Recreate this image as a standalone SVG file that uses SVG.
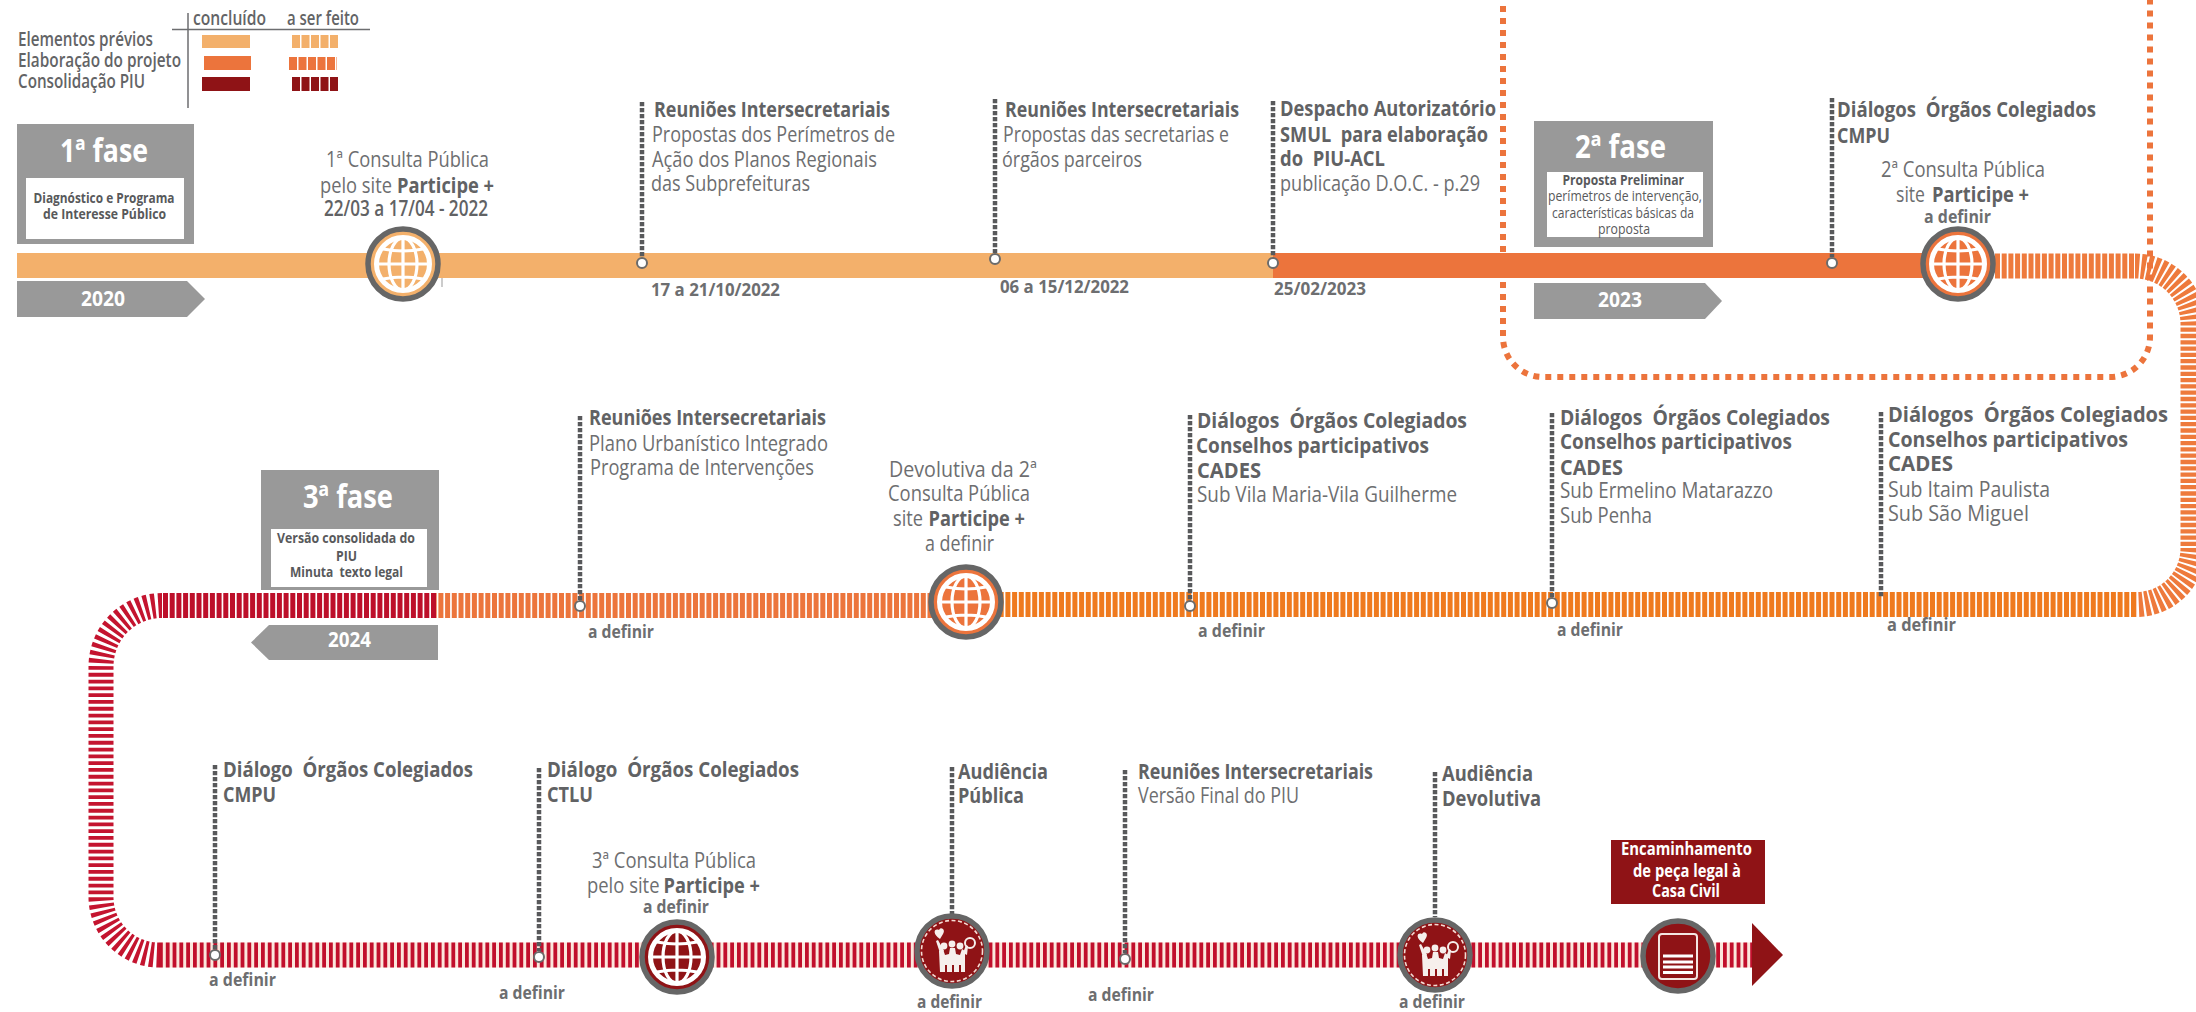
<svg xmlns="http://www.w3.org/2000/svg" width="2196" height="1012" viewBox="0 0 2196 1012">
<style>
text{font-family:"Open Sans","Noto Sans","Liberation Sans",sans-serif;fill:#6d6e70;font-size:21px}
.b{font-weight:700;fill:#616264}
.d{font-weight:700;fill:#6d6e70;font-size:18.5px}
.lg{font-weight:600;fill:#636466;font-size:19px}
.t{font-weight:700;fill:#fff;font-size:32px}
.y{font-weight:700;fill:#fff;font-size:21.5px}
.s{font-size:15px;fill:#58595b;font-weight:400}
.sb{font-size:15px;fill:#58595b;font-weight:700}
.w{font-size:17.5px;fill:#fff;font-weight:700}
.band{fill:none;stroke-width:25}
.solidA{stroke:#f3b06b}.solidB{stroke:#ec743c}
.st{stroke-dasharray:5 1.7}
.stThin{stroke-dasharray:3.8 3}
.leader{stroke:#58595b;stroke-width:4.5;stroke-dasharray:4.2 1.8;fill:none}
.mk{fill:#fff;stroke:#6b6b6b;stroke-width:2}
.ring{stroke:#666;stroke-width:5.5}
.box{fill:#999}
.wh{fill:none;stroke:#fff}
</style>
<defs>
<g id="globe" class="wh">
<circle r="26.500" stroke-width="5"/>
<ellipse rx="14" ry="26" stroke-width="3.200"/>
<path d="M0-26V26M-26 0H26M-20-15Q0-11 20-15M-20 15Q0 11 20 15" stroke-width="3.200"/>
</g>
<g id="crowd">
<circle r="30.500" fill="none" stroke="#f4dcd4" stroke-width="1.600" stroke-dasharray="4 2.500"/>
<g fill="#f6efec">
<path d="M-13 0L-9-2-7 4-3 3-2-3 3-3 4 3 8 4 10-2 13 0 13 21 9 21 9 14 7 14 7 21 2 21 2 14 0 14 0 21-5 21-5 14-7 14-7 21-12 21Z"/>
<circle cx="-8" cy="-5" r="3.400"/><circle cx="0" cy="-7" r="3.400"/><circle cx="8" cy="-5" r="3.400"/>
<path d="M-12 2L-16-10-14-11-8 0ZM11 2L14-6 16-5 15 4Z"/>
<path d="M-12-12C-20-17-18-23-13-21-11-25-6-21-9-17Z"/>
</g>
<circle cx="18" cy="-8" r="5" fill="none" stroke="#f6efec" stroke-width="2"/>
</g>
</defs>

<g id="connectors">
<path class="band solidA" d="M17 265.500H1273"/>
<path class="band solidB" d="M1273 265.500H1925"/>
<path class="band st" stroke="#ee7a3c" d="M1995 266H2135"/>
<path class="band" stroke="#ee7a3c" stroke-dasharray="4.300 2" d="M2135 266A58 58 0 0 1 2193 324V548A56.500 56.500 0 0 1 2136.500 604.500"/>
<path class="band st" stroke="#ef7a1e" d="M2136 604.500H966"/>
<path class="band st" stroke="#ec753c" d="M966 605.500H436"/>
<path class="band st" stroke="#bd0f2a" d="M436 605.500H162"/>
<path class="band" stroke="#c4142f" stroke-dasharray="3.800 3" d="M162 605.500A61 61 0 0 0 101 667V897A58 58 0 0 0 159 955"/>
<path class="band" stroke="#fbe6dc" d="M159 955H1752"/>
<path class="band stThin" stroke="#c10f2c" d="M159 955H1752"/>
<path id="dotted-frame" fill="none" stroke="#ec743c" stroke-width="6" stroke-dasharray="6 6" d="M1503-6V337A40 40 0 0 0 1543 377H2110A40 40 0 0 0 2150 337V-6"/>
<path class="leader" d="M642 102V257"/>
<path class="leader" d="M995 99V253"/>
<path class="leader" d="M1273 101V257"/>
<path class="leader" d="M1832 98V257"/>
<path class="leader" d="M580 416V600"/>
<path class="leader" d="M1190 415V600"/>
<path class="leader" d="M1552 413V597"/>
<path class="leader" d="M1881 412V597"/>
<path class="leader" d="M215 765V949"/>
<path class="leader" d="M539 768V951"/>
<path class="leader" d="M952 767V915"/>
<path class="leader" d="M1125 770V953"/>
<path class="leader" d="M1435 772V917"/>
<path d="M442 278V287" stroke="#999" stroke-width="1"/>
</g>

<g id="legend">
<path d="M188 13V108M172 29.500H370" stroke="#6d6e70" stroke-width="1.500" fill="none"/>
<text class="lg" x="193" y="25" textLength="73" lengthAdjust="spacingAndGlyphs">concluído</text>
<text class="lg" x="287" y="25" textLength="72" lengthAdjust="spacingAndGlyphs">a ser feito</text>
<text class="lg" x="18" y="46" textLength="135" lengthAdjust="spacingAndGlyphs">Elementos prévios</text>
<text class="lg" x="18" y="67" textLength="163" lengthAdjust="spacingAndGlyphs">Elaboração do projeto</text>
<text class="lg" x="18" y="88" textLength="127" lengthAdjust="spacingAndGlyphs">Consolidação PIU</text>
<rect x="202" y="35" width="48" height="13" fill="#f3b06b"/>
<rect x="204" y="56" width="47" height="14" fill="#ec743c"/>
<rect x="202" y="77" width="48" height="14" fill="#8f1316"/>
<path d="M292 41.500H339" stroke="#f3b06b" stroke-width="13" stroke-dasharray="8 1.500"/>
<path d="M289 63.500H337" stroke="#ec743c" stroke-width="13" stroke-dasharray="8 1.500"/>
<path d="M292 84H339" stroke="#8f1316" stroke-width="14" stroke-dasharray="8 1.500"/>
</g>

<g id="fase1">
<rect class="box" x="17" y="124" width="177" height="120"/>
<rect x="26" y="178" width="158" height="61" fill="#fff"/>
<text class="t" x="60" y="162" textLength="88" lengthAdjust="spacingAndGlyphs">1ª fase</text>
<text class="sb" x="33.500" y="203" textLength="141" lengthAdjust="spacingAndGlyphs">Diagnóstico e Programa</text>
<text class="sb" x="43" y="219" textLength="123" lengthAdjust="spacingAndGlyphs">de Interesse Público</text>
</g>
<g id="ano2020">
<path class="box" d="M17 281H187L205 299 187 317H17Z"/>
<text class="y" x="81" y="306" textLength="44" lengthAdjust="spacingAndGlyphs">2020</text>
</g>
<g id="consulta1">
<text x="326" y="167" textLength="163" lengthAdjust="spacingAndGlyphs">1ª Consulta Pública</text>
<text y="193"><tspan x="320" textLength="72" lengthAdjust="spacingAndGlyphs">pelo site</tspan><tspan class="b" x="397" textLength="97" lengthAdjust="spacingAndGlyphs">Participe +</tspan></text>
<text class="b" style="font-weight:600" x="324" y="216" textLength="164" lengthAdjust="spacingAndGlyphs">22/03 a 17/04 - 2022</text>
<circle class="ring" cx="403" cy="264" r="35" fill="#f3b06b"/>
<use href="#globe" x="403" y="264"/>
</g>
<g id="reunioes1">
<circle class="mk" cx="642" cy="263" r="5"/>
<text class="b" x="654" y="117" textLength="236" lengthAdjust="spacingAndGlyphs">Reuniões Intersecretariais</text>
<text x="652" y="142" textLength="243" lengthAdjust="spacingAndGlyphs">Propostas dos Perímetros de</text>
<text x="652" y="167" textLength="225" lengthAdjust="spacingAndGlyphs">Ação dos Planos Regionais</text>
<text x="651" y="191" textLength="159" lengthAdjust="spacingAndGlyphs">das Subprefeituras</text>
<text class="d" x="651" y="296" textLength="129" lengthAdjust="spacingAndGlyphs">17 a 21/10/2022</text>
</g>
<g id="reunioes2">
<circle class="mk" cx="995" cy="259" r="5"/>
<text class="b" x="1005" y="117" textLength="234" lengthAdjust="spacingAndGlyphs">Reuniões Intersecretariais</text>
<text x="1003" y="142" textLength="226" lengthAdjust="spacingAndGlyphs">Propostas das secretarias e</text>
<text x="1002" y="167" textLength="140" lengthAdjust="spacingAndGlyphs">órgãos parceiros</text>
<text class="d" x="1000" y="293" textLength="129" lengthAdjust="spacingAndGlyphs">06 a 15/12/2022</text>
</g>
<g id="despacho">
<circle class="mk" cx="1273" cy="263" r="5"/>
<text class="b" x="1280" y="116" textLength="216" lengthAdjust="spacingAndGlyphs">Despacho Autorizatório</text>
<text class="b" x="1280" y="142" textLength="208" lengthAdjust="spacingAndGlyphs" xml:space="preserve">SMUL  para elaboração</text>
<text class="b" x="1280" y="166" textLength="105" lengthAdjust="spacingAndGlyphs" xml:space="preserve">do  PIU-ACL</text>
<text x="1280" y="191" textLength="200" lengthAdjust="spacingAndGlyphs">publicação D.O.C. - p.29</text>
<text class="d" x="1274" y="295" textLength="92" lengthAdjust="spacingAndGlyphs">25/02/2023</text>
</g>
<g id="fase2">
<rect class="box" x="1534" y="121" width="179" height="126"/>
<rect x="1547" y="172" width="156" height="65" fill="#fff"/>
<text class="t" x="1575" y="158" textLength="91" lengthAdjust="spacingAndGlyphs">2ª fase</text>
<text class="sb" x="1562.500" y="185" textLength="121.500" lengthAdjust="spacingAndGlyphs">Proposta Preliminar</text>
<text class="s" x="1548" y="201" textLength="154" lengthAdjust="spacingAndGlyphs">perímetros de intervenção,</text>
<text class="s" x="1552" y="218" textLength="142" lengthAdjust="spacingAndGlyphs">características básicas da</text>
<text class="s" x="1598" y="234" textLength="52" lengthAdjust="spacingAndGlyphs">proposta</text>
</g>
<g id="ano2023">
<path class="box" d="M1534 283H1705L1722 301 1705 319H1534Z"/>
<text class="y" x="1598" y="307" textLength="44" lengthAdjust="spacingAndGlyphs">2023</text>
</g>
<g id="dialogo-cmpu1">
<circle class="mk" cx="1832" cy="263" r="5"/>
<text class="b" x="1837" y="117" textLength="259" lengthAdjust="spacingAndGlyphs" xml:space="preserve">Diálogos  Órgãos Colegiados</text>
<text class="b" x="1837" y="143" textLength="53" lengthAdjust="spacingAndGlyphs">CMPU</text>
</g>
<g id="consulta2">
<text x="1881" y="177" textLength="164" lengthAdjust="spacingAndGlyphs">2ª Consulta Pública</text>
<text y="202"><tspan x="1896" textLength="29" lengthAdjust="spacingAndGlyphs">site</tspan><tspan class="b" x="1932" textLength="97" lengthAdjust="spacingAndGlyphs">Participe +</tspan></text>
<text class="d" x="1924" y="223" textLength="67" lengthAdjust="spacingAndGlyphs">a definir</text>
<circle class="ring" cx="1958" cy="264" r="35" fill="#ec743c"/>
<use href="#globe" x="1958" y="264"/>
</g>

<g id="fase3">
<rect class="box" x="261" y="470" width="178" height="120"/>
<rect x="271" y="529" width="156" height="58" fill="#fff"/>
<text class="t" x="303" y="508" textLength="90" lengthAdjust="spacingAndGlyphs">3ª fase</text>
<text class="sb" x="277" y="543" textLength="138" lengthAdjust="spacingAndGlyphs">Versão consolidada do</text>
<text class="sb" x="336" y="561" textLength="21" lengthAdjust="spacingAndGlyphs">PIU</text>
<text class="sb" x="290" y="577" textLength="113" lengthAdjust="spacingAndGlyphs" xml:space="preserve">Minuta  texto legal</text>
</g>
<g id="ano2024">
<path class="box" d="M438 625H269L251 642.500 269 660H438Z"/>
<text class="y" x="328" y="647" textLength="43" lengthAdjust="spacingAndGlyphs">2024</text>
</g>
<g id="reunioes3">
<circle class="mk" cx="580" cy="606" r="5"/>
<text class="b" x="589" y="425" textLength="237" lengthAdjust="spacingAndGlyphs">Reuniões Intersecretariais</text>
<text x="589" y="451" textLength="239" lengthAdjust="spacingAndGlyphs">Plano Urbanístico Integrado</text>
<text x="590" y="475" textLength="224" lengthAdjust="spacingAndGlyphs">Programa de Intervenções</text>
<text class="d" x="588" y="638" textLength="66" lengthAdjust="spacingAndGlyphs">a definir</text>
</g>
<g id="devolutiva">
<text x="889" y="477" textLength="148" lengthAdjust="spacingAndGlyphs">Devolutiva da 2ª</text>
<text x="888" y="501" textLength="142" lengthAdjust="spacingAndGlyphs">Consulta Pública</text>
<text y="526"><tspan x="893" textLength="30" lengthAdjust="spacingAndGlyphs">site</tspan><tspan class="b" x="928.500" textLength="96.500" lengthAdjust="spacingAndGlyphs">Participe +</tspan></text>
<text x="925" y="551" textLength="69" lengthAdjust="spacingAndGlyphs">a definir</text>
<circle class="ring" cx="966" cy="602" r="35" fill="#ec743c"/>
<use href="#globe" x="966" y="602"/>
</g>
<g id="dialogo-vila-maria">
<circle class="mk" cx="1190" cy="606" r="5"/>
<text class="b" x="1197" y="428" textLength="270" lengthAdjust="spacingAndGlyphs" xml:space="preserve">Diálogos  Órgãos Colegiados</text>
<text class="b" x="1196" y="453" textLength="233" lengthAdjust="spacingAndGlyphs">Conselhos participativos</text>
<text class="b" x="1197" y="478" textLength="64" lengthAdjust="spacingAndGlyphs">CADES</text>
<text x="1197" y="502" textLength="260" lengthAdjust="spacingAndGlyphs">Sub Vila Maria-Vila Guilherme</text>
<text class="d" x="1198" y="637" textLength="67" lengthAdjust="spacingAndGlyphs">a definir</text>
</g>
<g id="dialogo-ermelino">
<circle class="mk" cx="1552" cy="603" r="5"/>
<text class="b" x="1560" y="425" textLength="270" lengthAdjust="spacingAndGlyphs" xml:space="preserve">Diálogos  Órgãos Colegiados</text>
<text class="b" x="1560" y="449" textLength="232" lengthAdjust="spacingAndGlyphs">Conselhos participativos</text>
<text class="b" x="1560" y="475" textLength="63" lengthAdjust="spacingAndGlyphs">CADES</text>
<text x="1560" y="498" textLength="213" lengthAdjust="spacingAndGlyphs">Sub Ermelino Matarazzo</text>
<text x="1560" y="523" textLength="92" lengthAdjust="spacingAndGlyphs">Sub Penha</text>
<text class="d" x="1557" y="636" textLength="66" lengthAdjust="spacingAndGlyphs">a definir</text>
</g>
<g id="dialogo-itaim">
<text class="b" x="1888" y="422" textLength="280" lengthAdjust="spacingAndGlyphs" xml:space="preserve">Diálogos  Órgãos Colegiados</text>
<text class="b" x="1888" y="447" textLength="240" lengthAdjust="spacingAndGlyphs">Conselhos participativos</text>
<text class="b" x="1888" y="471" textLength="65" lengthAdjust="spacingAndGlyphs">CADES</text>
<text x="1888" y="497" textLength="162" lengthAdjust="spacingAndGlyphs">Sub Itaim Paulista</text>
<text x="1888" y="521" textLength="141" lengthAdjust="spacingAndGlyphs">Sub São Miguel</text>
<text class="d" x="1887" y="631" textLength="69" lengthAdjust="spacingAndGlyphs">a definir</text>
</g>

<g id="dialogo-cmpu2">
<circle class="mk" cx="215" cy="955" r="5"/>
<text class="b" x="223" y="777" textLength="250" lengthAdjust="spacingAndGlyphs" xml:space="preserve">Diálogo  Órgãos Colegiados</text>
<text class="b" x="223" y="802" textLength="53" lengthAdjust="spacingAndGlyphs">CMPU</text>
<text class="d" x="209" y="986" textLength="67" lengthAdjust="spacingAndGlyphs">a definir</text>
</g>
<g id="dialogo-ctlu">
<circle class="mk" cx="539" cy="957" r="5"/>
<text class="b" x="547" y="777" textLength="252" lengthAdjust="spacingAndGlyphs" xml:space="preserve">Diálogo  Órgãos Colegiados</text>
<text class="b" x="547" y="802" textLength="46" lengthAdjust="spacingAndGlyphs">CTLU</text>
<text class="d" x="499" y="999" textLength="66" lengthAdjust="spacingAndGlyphs">a definir</text>
</g>
<g id="consulta3">
<text x="592" y="868" textLength="164" lengthAdjust="spacingAndGlyphs">3ª Consulta Pública</text>
<text y="893"><tspan x="587" textLength="72.500" lengthAdjust="spacingAndGlyphs">pelo site</tspan><tspan class="b" x="663.500" textLength="96.500" lengthAdjust="spacingAndGlyphs">Participe +</tspan></text>
<text class="d" x="643" y="913" textLength="66" lengthAdjust="spacingAndGlyphs">a definir</text>
<circle class="ring" cx="677" cy="957" r="35" fill="#8f1316"/>
<use href="#globe" x="677" y="957"/>
</g>
<g id="audiencia-publica">
<text class="b" x="958" y="779" textLength="90" lengthAdjust="spacingAndGlyphs">Audiência</text>
<text class="b" x="958" y="803" textLength="66" lengthAdjust="spacingAndGlyphs">Pública</text>
<circle class="ring" cx="952" cy="951" r="35" fill="#8f1316"/>
<use href="#crowd" x="952" y="951"/>
<text class="d" x="917" y="1008" textLength="65" lengthAdjust="spacingAndGlyphs">a definir</text>
</g>
<g id="reunioes4">
<circle class="mk" cx="1125" cy="959" r="5"/>
<text class="b" x="1138" y="779" textLength="235" lengthAdjust="spacingAndGlyphs">Reuniões Intersecretariais</text>
<text x="1138" y="803" textLength="161" lengthAdjust="spacingAndGlyphs">Versão Final do PIU</text>
<text class="d" x="1088" y="1001" textLength="66" lengthAdjust="spacingAndGlyphs">a definir</text>
</g>
<g id="audiencia-devolutiva">
<text class="b" x="1442" y="781" textLength="91" lengthAdjust="spacingAndGlyphs">Audiência</text>
<text class="b" x="1442" y="806" textLength="99" lengthAdjust="spacingAndGlyphs">Devolutiva</text>
<circle class="ring" cx="1435" cy="955" r="35" fill="#8f1316"/>
<use href="#crowd" x="1435" y="955"/>
<text class="d" x="1399" y="1008" textLength="66" lengthAdjust="spacingAndGlyphs">a definir</text>
</g>
<g id="encaminhamento">
<rect x="1611" y="840" width="154" height="64" fill="#8f1316"/>
<text class="w" x="1621" y="855" textLength="131" lengthAdjust="spacingAndGlyphs">Encaminhamento</text>
<text class="w" x="1633" y="877" textLength="108" lengthAdjust="spacingAndGlyphs">de peça legal à</text>
<text class="w" x="1652" y="897" textLength="68" lengthAdjust="spacingAndGlyphs">Casa Civil</text>
<circle class="ring" cx="1678" cy="956" r="35" fill="#8f1316"/>
<rect x="1659" y="934" width="38" height="45" rx="3" fill="none" stroke="#f4e6e2" stroke-width="2"/>
<path d="M1663 956H1693M1663 962H1693M1663 967H1693M1663 972.500H1693" stroke="#fff" stroke-width="2.800"/>
</g>
<g id="seta-final">
<path d="M1752 923L1783 955 1752 986Z" fill="#8f1316"/>
</g>
</svg>
